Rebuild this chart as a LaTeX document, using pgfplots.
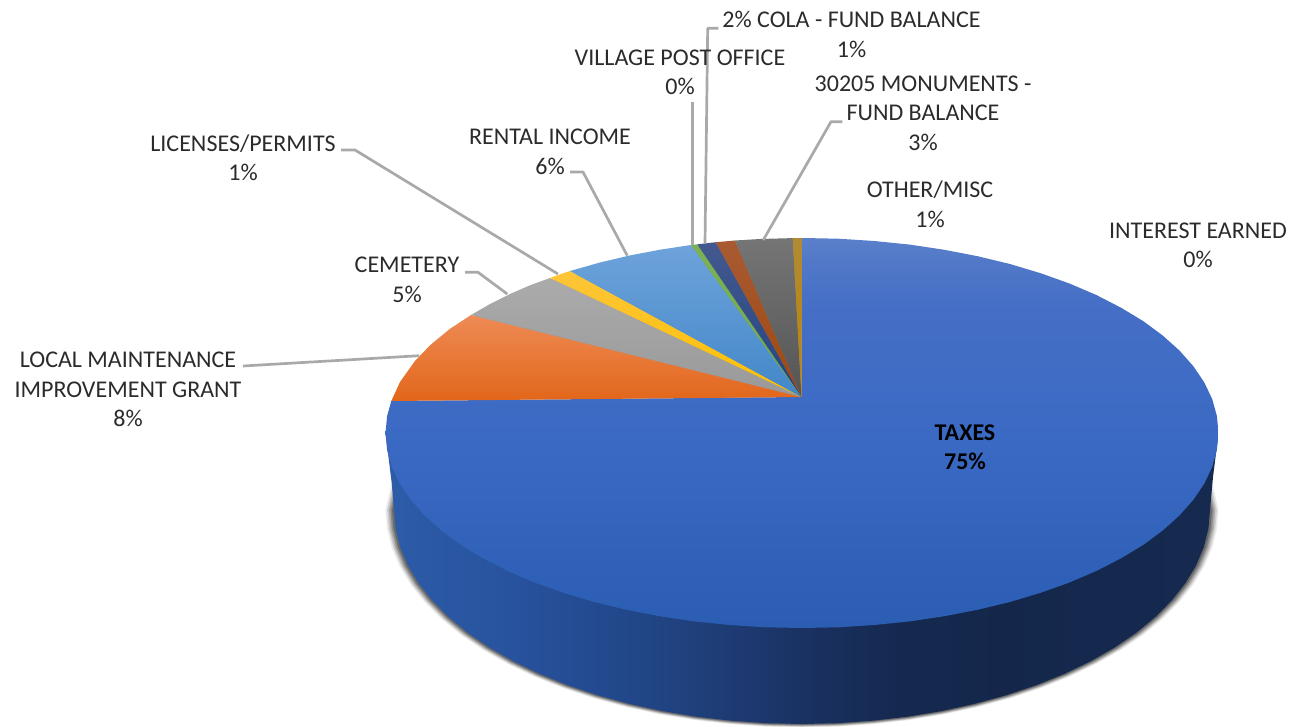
\documentclass[border=0pt]{standalone}
\usepackage{pgfplots}
\pgfplotsset{compat=1.18}
\usepackage{pgfplotstable}
\usepackage{fontspec}
\setmainfont{Carlito}
\definecolor{txt}{HTML}{2B2B2B}
\definecolor{leadc}{HTML}{A9A9A9}
\definecolor{sa}{HTML}{2D5CA9}\definecolor{sb}{HTML}{28539F}\definecolor{sc}{HTML}{234A8F}
\definecolor{sd}{HTML}{1F3F7A}\definecolor{se}{HTML}{1A3263}\definecolor{sf}{HTML}{15294F}
\definecolor{sg}{HTML}{14274B}\definecolor{sh}{HTML}{162A50}
\definecolor{ta}{HTML}{5B80CA}\definecolor{tb}{HTML}{5279C8}\definecolor{tc}{HTML}{466FC6}
\definecolor{td}{HTML}{3B6AC4}\definecolor{te}{HTML}{2B5DB3}
\pgfdeclarehorizontalshading{pieside}{100bp}{color(0bp)=(sa); color(25bp)=(sa); color(31.9bp)=(sb); color(37.9bp)=(sc); color(43.9bp)=(sd); color(49.9bp)=(se); color(55.9bp)=(sf); color(61.9bp)=(sg); color(75bp)=(sh); color(100bp)=(sh)}
\pgfdeclareverticalshading{pietop}{100bp}{color(0bp)=(te); color(25bp)=(te); color(50bp)=(td); color(67bp)=(tc); color(72.2bp)=(tb); color(75bp)=(ta); color(100bp)=(ta)}
\tikzset{
  lab/.style={align=center, text=txt, font=\fontsize{24}{29.5}\selectfont, inner sep=0pt},
  leadl/.style={draw=leadc, line width=2.7pt, line join=round},
}
\pgfplotstableread{
x y
1203 480
1210 510
1208.4 528.7
1203.8 547.2
1196.1 565.4
1185.4 583.2
1171.8 600.4
1155.3 617
1136.2 632.8
1114.5 647.6
1090.5 661.3
1064.3 673.9
1036 685.3
1006 695.3
974.4 703.9
941.5 711.1
907.6 716.7
872.8 720.7
837.6 723.2
802 724
766.4 723.2
731.2 720.7
696.4 716.7
662.5 711.1
629.6 703.9
598 695.3
568 685.3
539.7 673.9
513.5 661.3
489.5 647.6
467.8 632.8
448.7 617
432.2 600.4
418.6 583.2
407.9 565.4
400.2 547.2
395.6 528.7
394 510
401 480
}\lowerrim
\pgfplotstableread{
x y
801.5 397
802 238
838.3 238.7
874.3 241
909.8 244.6
944.4 249.8
978 256.3
1010.25 264.1
1040.9 273.3
1069.7 283.6
1096.5 295.1
1121 307.7
1143.2 321.1
1162.7 335.5
1179.5 350.6
1193.4 366.3
1204.3 382.5
1212.2 399.1
1216.9 416
1218.5 433
1216.9 450
1212.2 466.9
1204.3 483.5
1193.4 499.7
1179.5 515.4
1162.7 530.5
1143.2 544.9
1121 558.3
1096.5 570.9
1069.7 582.4
1040.9 592.7
1010.25 601.9
978 609.7
944.4 616.2
909.8 621.4
874.3 625
838.3 627.3
802 628
765.7 627.3
729.7 625
694.2 621.4
659.6 616.2
626 609.7
593.75 601.9
563.1 592.7
534.3 582.4
507.5 570.9
483 558.3
460.8 544.9
441.3 530.5
424.5 515.4
410.6 499.7
399.7 483.5
391.8 466.9
387.1 450
385.5 433
387.1 416
391.3 401
}\taxes
\begin{document}
\begin{tikzpicture}
\path[use as bounding box] (0,0) rectangle (1309pt,727pt);
\begin{axis}[
  at={(0,0)}, anchor=south west,
  scale only axis, width=1309pt, height=727pt,
  xmin=0, xmax=1309, ymin=0, ymax=727, y dir=reverse,
  hide axis, clip=false, no markers,
]
% soft shadow
\addplot[draw=none, fill=black, fill opacity=0.08] table[x expr={802+(\thisrow{x}-802)*1.021}, y expr={510+(\thisrow{y}-510)*1.016}] {\lowerrim} -- cycle;
\addplot[draw=none, fill=black, fill opacity=0.12] table[x expr={802+(\thisrow{x}-802)*1.017}, y expr={510+(\thisrow{y}-510)*1.013}] {\lowerrim} -- cycle;
\addplot[draw=none, fill=black, fill opacity=0.16] table[x expr={802+(\thisrow{x}-802)*1.013}, y expr={510+(\thisrow{y}-510)*1.010}] {\lowerrim} -- cycle;
\addplot[draw=none, fill=black, fill opacity=0.20] table[x expr={802+(\thisrow{x}-802)*1.009}, y expr={510+(\thisrow{y}-510)*1.007}] {\lowerrim} -- cycle;
\addplot[draw=none, fill=black, fill opacity=0.24] table[x expr={802+(\thisrow{x}-802)*1.005}, y expr={510+(\thisrow{y}-510)*1.004}] {\lowerrim} -- cycle;
% side wall
\addplot[draw=none, shade, shading=pieside] coordinates {
(385.5,433)(391.7,483)(394,510)(395.6,528.7)(400.2,547.2)(407.9,565.4)(418.6,583.2)(432.2,600.4)(448.7,617)(467.8,632.8)(489.5,647.6)(513.5,661.3)(539.7,673.9)(568,685.3)(598,695.3)(629.6,703.9)(662.5,711.1)(696.4,716.7)(731.2,720.7)(766.4,723.2)(802,724)(837.6,723.2)(872.8,720.7)(907.6,716.7)(941.5,711.1)(974.4,703.9)(1006,695.3)(1036,685.3)(1064.3,673.9)(1090.5,661.3)(1114.5,647.6)(1136.2,632.8)(1155.3,617)(1171.8,600.4)(1185.4,583.2)(1196.1,565.4)(1203.8,547.2)(1208.4,528.7)(1210,510)(1213,477)(1218.5,433)
} -- cycle;
% underlay that closes the hairlines between the small slices
\addplot[draw=none, fill={rgb,255:red,150;green,140;blue,130}] coordinates {(801.5,397)(393,400)(416,362)(472,317)(551,280)(692,247)(802,240)} -- cycle;
% top face slices
\addplot[draw=none, shade, shading=pietop] table {\taxes} -- cycle;
\addplot[draw=none, top color={rgb,255:red,238;green,139;blue,85}, middle color={rgb,255:red,243;green,122;blue,44}, bottom color={rgb,255:red,226;green,102;blue,26}] coordinates {(801.5,397)(391.3,401)(400,382)(415,361)(430,345.3)(450,328.8)(471,315)} -- cycle;
\addplot[draw=none, top color={rgb,255:red,171;green,171;blue,171}, bottom color={rgb,255:red,153;green,153;blue,153}] coordinates {(801.5,397)(471,315)(490,304)(510,294)(530,285.3)(550,278)} -- cycle;
\addplot[draw=none, top color={rgb,255:red,253;green,197;blue,57}, bottom color={rgb,255:red,255;green,192;blue,0}] coordinates {(801.5,397)(550,278)(560,274.3)(570,271)} -- cycle;
\addplot[draw=none, top color={rgb,255:red,110;green,163;blue,219}, middle color={rgb,255:red,80;green,148;blue,216}, bottom color={rgb,255:red,66;green,135;blue,200}] coordinates {(801.5,397)(570,271)(600,262.5)(630,255.4)(660,249.7)(691,245)} -- cycle;
\addplot[draw=none, top color={rgb,255:red,123;green,177;blue,83}, bottom color={rgb,255:red,112;green,173;blue,71}] coordinates {(801.5,397)(691,245)(697.3,244.3)} -- cycle;
\addplot[draw=none, top color={rgb,255:red,67;green,89;blue,143}, bottom color={rgb,255:red,35;green,68;blue,130}] coordinates {(801.5,397)(697.3,244.3)(715.7,242.2)} -- cycle;
\addplot[draw=none, top color={rgb,255:red,168;green,90;blue,50}, bottom color={rgb,255:red,158;green,72;blue,14}] coordinates {(801.5,397)(715.7,242.2)(735,240.5)} -- cycle;
\addplot[draw=none, top color={rgb,255:red,117;green,117;blue,117}, bottom color={rgb,255:red,85;green,85;blue,85}] coordinates {(801.5,397)(735,240.5)(760,239)(792.7,238.1)} -- cycle;
\addplot[draw=none, top color={rgb,255:red,176;green,138;blue,53}, bottom color={rgb,255:red,191;green,133;blue,0}] coordinates {(801.5,397)(792.7,238.1)(802,238)} -- cycle;
% leader lines
\addplot[leadl] coordinates {(243,366)(419.3,355.7)};
\addplot[leadl] coordinates {(465,272.3)(478,272.3)(507.3,294)};
\addplot[leadl] coordinates {(341,150)(355,150)(558,274)};
\addplot[leadl] coordinates {(570,172)(583,172)(627.3,255.7)};
\addplot[leadl] coordinates {(692.3,101.7)(692.3,245)};
\addplot[leadl] coordinates {(718.3,28.3)(707.7,28.3)(705,243.3)};
\addplot[leadl] coordinates {(842.3,121.7)(831,121.7)(763.3,240)};
% labels
\node[lab] at (axis cs:128,389.5) {LOCAL MAINTENANCE\\IMPROVEMENT GRANT\\8\%};
\node[lab] at (axis cs:407,280) {CEMETERY\\5\%};
\node[lab] at (axis cs:243,158) {LICENSES/PERMITS\\1\%};
\node[lab] at (axis cs:550,152) {RENTAL INCOME\\6\%};
\node[lab] at (axis cs:680,72.5) {VILLAGE POST OFFICE\\0\%};
\node[lab] at (axis cs:851.5,34.5) {2\% COLA - FUND BALANCE\\1\%};
\node[lab] at (axis cs:923,113) {30205 MONUMENTS -\\FUND BALANCE\\3\%};
\node[lab] at (axis cs:930,204.5) {OTHER/MISC\\1\%};
\node[lab] at (axis cs:1198,245.5) {INTEREST EARNED\\0\%};
\node[lab, text=black, font=\fontsize{24}{29.5}\selectfont\bfseries] at (axis cs:965,447) {TAXES\\75\%};
\end{axis}
\end{tikzpicture}
\end{document}
